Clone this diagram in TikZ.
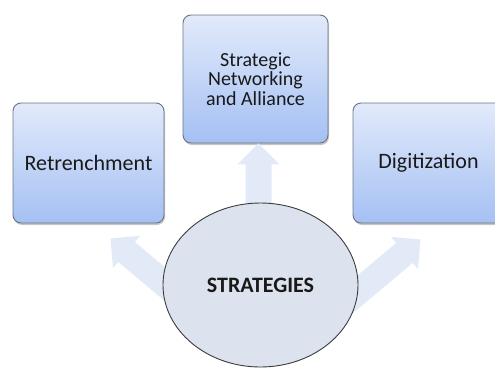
\documentclass[tikz,border=0pt]{standalone}
\usepackage{fontspec}
\setmainfont{Carlito}
\usetikzlibrary{shadows,calc,shapes.geometric}
\definecolor{boxtop}{RGB}{226,234,251}
\definecolor{boxbot}{RGB}{164,192,243}
\definecolor{boxline}{RGB}{108,116,128}
\definecolor{arrowfill}{RGB}{226,234,248}
\definecolor{ellfill}{RGB}{220,227,238}
\definecolor{ellline}{RGB}{60,60,60}
\definecolor{txt}{RGB}{25,25,25}
\newcommand\blockarrow[2]{%
  \begin{scope}[shift={(#1)},rotate=#2]
    \fill[arrowbody] (0,0) -- (-21,21) -- (-21,13) -- (-135,13) -- (-135,-13) -- (-21,-13) -- (-21,-21) -- cycle;
  \end{scope}}
\begin{document}
\begin{tikzpicture}[x=1pt,y=-1pt,
  stratbox/.style={draw=boxline, line width=0.9pt, rounded corners=8pt,
    top color=boxtop, bottom color=boxbot,
    drop shadow={shadow xshift=1pt, shadow yshift=-2pt, opacity=0.45},
    text=txt, align=center, inner sep=0pt},
  arrowbody/.style={fill=arrowfill},
  centre/.style={ellipse, draw=ellline, line width=0.9pt, fill=ellfill,
    minimum width=195pt, minimum height=164pt, inner sep=0pt, text=txt,
    font=\fontsize{22}{24}\selectfont\bfseries}]
\useasboundingbox (0,0) rectangle (495,367);
\clip (0,0) rectangle (495,367);
\node[stratbox, minimum width=151pt, minimum height=120pt,
      font=\fontsize{22}{24}\selectfont] (left) at (88.5,163) {Retrenchment};
\node[stratbox, minimum width=145pt, minimum height=128pt,
      font=\fontsize{20}{19.5}\selectfont] (top) at (255.5,79) {Strategic\\Networking\\and Alliance};
\node[stratbox, minimum width=151pt, minimum height=120pt,
      font=\fontsize{22}{24}\selectfont] (right) at (428.5,163) {Digitization};
\coordinate (tipT) at ($(top.south)+(3,0)$);
\coordinate (tipL) at ($(left.south east)+(-54,15)$);
\coordinate (tipR) at ($(right.south west)+(68,16)$);
\blockarrow{tipT}{90}
\blockarrow{tipL}{140}
\blockarrow{tipR}{40}
\node[centre] (strat) at (260.5,285) {STRATEGIES};
\end{tikzpicture}
\end{document}
